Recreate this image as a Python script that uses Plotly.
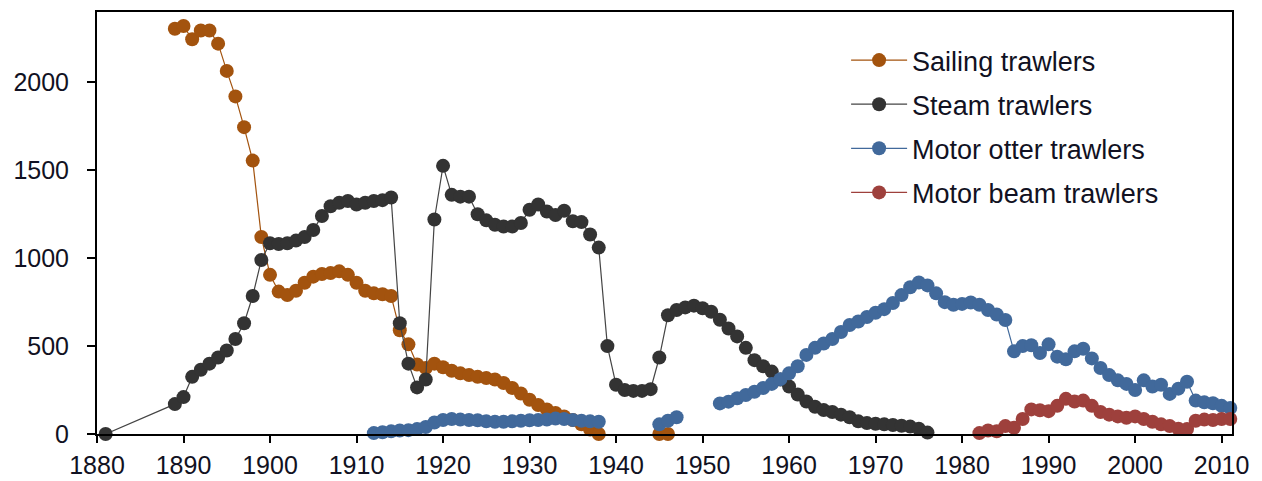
import plotly.graph_objects as go

# ---- data ----
sail_years = list(range(1889, 1947))
sail_vals = [2305, 2320, 2245, 2295, 2295, 2220, 2065, 1920, 1745, 1555,
             1120, 905, 810, 790, 815, 860, 895, 910, 915, 925,
             905, 860, 815, 800, 795, 785, 590, 510, 395, 375,
             400, 380, 360, 345, 335, 325, 318, 310, 290, 262,
             230, 195, 165, 140, 120, 100, 80, 55, 25, 0,
             None, None, None, None, None, None, 0, 0]

steam_years = [1881] + list(range(1889, 1977))
steam_vals = [0,
              170, 210, 325, 365, 400, 435, 475, 540, 630, 785,
              990, 1085, 1080, 1085, 1100, 1120, 1160, 1240, 1295, 1315,
              1325, 1305, 1315, 1325, 1330, 1345, 630, 400, 265, 310,
              1220, 1525, 1360, 1350, 1350, 1250, 1215, 1190, 1180, 1180,
              1200, 1275, 1305, 1265, 1245, 1270, 1210, 1205, 1135, 1060,
              500, 280, 250, 245, 245, 255, 435, 675, 705, 720,
              730, 715, 695, 650, 600, 555, 490, 420, 385, 355,
              310, 270, 225, 185, 155, 136, 125, 110, 95, 72,
              62, 58, 55, 51, 47, 42, 30, 8]

otter_years = list(range(1912, 2012))
otter_vals = [5, 10, 15, 20, 22, 28, 40, 65, 80, 85,
              82, 80, 78, 72, 70, 70, 72, 75, 78, 80,
              82, 88, 85, 80, 75, 72, 70,
              None, None, None, None, None, None,
              55, 75, 95,
              None, None, None, None,
              174, 184, 203, 222, 240, 262, 285, 312, 345, 385,
              450, 490, 515, 540, 580, 620, 640, 665, 690, 710,
              745, 790, 835, 862, 845, 800, 750, 735, 740, 748,
              735, 705, 680, 648, 470, 500, 505, 460, 510, 440,
              425, 470, 485, 430, 375, 335, 305, 285, 250, 305,
              270, 280, 228, 258, 297, 190, 180, 175, 160, 148]

beam_years = list(range(1982, 2012))
beam_vals = [5, 20, 15, 45, 35, 85, 140, 135, 130, 160,
             200, 185, 190, 160, 125, 110, 100, 92, 100, 85,
             70, 55, 45, 30, 28, 75, 82, 80, 85, 85]

series_names = ["Sailing trawlers", "Steam trawlers",
                "Motor otter trawlers", "Motor beam trawlers"]
x_ticks = list(range(1880, 2011, 10))
y_ticks = [0, 500, 1000, 1500, 2000]

colors = ["#A3530E", "#333333", "#41699B", "#9E403C"]
line_colors = ["#A3530E", "#444444", "#41699B", "#9E403C"]

fig = go.Figure()
for i, (name, xs, ys, c, lc) in enumerate(zip(
        series_names,
        [sail_years, steam_years, otter_years, beam_years],
        [sail_vals, steam_vals, otter_vals, beam_vals],
        colors, line_colors)):
    fig.add_trace(go.Scatter(
        x=xs, y=ys, name=name, mode="lines+markers",
        legendgroup="g%d" % i,
        line=dict(color=lc, width=1.2),
        marker=dict(color=c, size=14, line=dict(width=0)),
        connectgaps=False, cliponaxis=False,
    ))

font_family = "Liberation Sans, Arial, sans-serif"
fig.update_layout(
    width=1262, height=481,
    margin=dict(l=97, r=30, t=12, b=47, autoexpand=False),
    paper_bgcolor="white", plot_bgcolor="white",
    font=dict(family=font_family, size=25, color="#111122"),
    showlegend=True,
    legend=dict(x=0.66, y=0.943, xanchor="left", yanchor="top",
                bgcolor="rgba(0,0,0,0)", itemwidth=56,
                font=dict(size=27, color="#111122"), tracegroupgap=6),
)
fig.update_xaxes(range=[1880, 2011.2], tickvals=x_ticks, automargin=False,
                 showgrid=False, zeroline=False,
                 showline=True, linecolor="black", linewidth=2, mirror=True,
                 ticks="outside", ticklen=7, tickwidth=2, tickcolor="black",
                 ticklabelstandoff=1)
fig.update_yaxes(range=[0, 2400], tickvals=y_ticks, automargin=False,
                 showgrid=False, zeroline=False,
                 showline=True, linecolor="black", linewidth=2, mirror=True,
                 ticks="outside", ticklen=8, tickwidth=2, tickcolor="black",
                 ticklabelstandoff=13)

fig.write_html("out.html",
               config={"displayModeBar": False},
               post_script="document.body.style.margin='0px';")
